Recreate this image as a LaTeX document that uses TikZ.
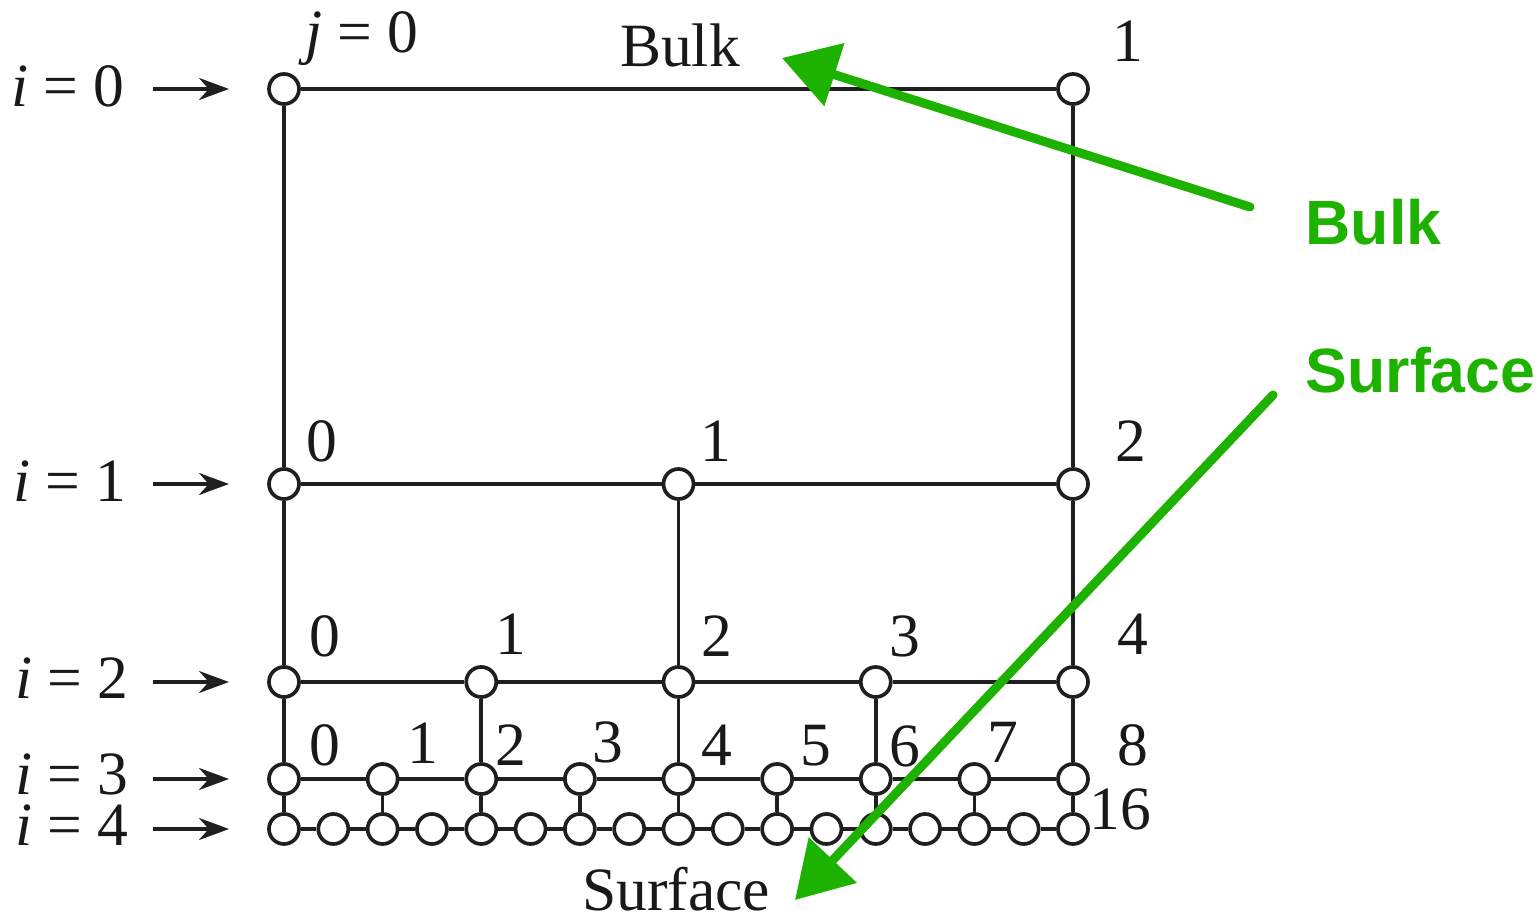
\documentclass[tikz,border=0pt]{standalone}
\usepackage{fontspec}
\setmainfont{Liberation Serif}
\newfontfamily\greenfont{Liberation Sans}
\usetikzlibrary{arrows.meta}
\definecolor{grn}{RGB}{30,178,0}
\begin{document}
\begin{tikzpicture}[x=0.01cm,y=-0.01cm,
  pt/.style={circle,draw=black!88,fill=white,line width=1.05pt,minimum size=0.3cm,inner sep=0pt},
  lab/.style={font=\fontsize{17.5}{20}\selectfont,inner sep=0pt,anchor=base,text=black!90},
  edge/.style={line width=1.05pt,draw=black!88},
  ptr/.style={line width=1.05pt,draw=black!88,-{Stealth[length=0.3cm,width=0.22cm]}},
  gl/.style={font=\fontsize{17.8}{21}\selectfont\greenfont\bfseries,text=grn,inner sep=0pt,anchor=base west},
  garrow/.style={draw=grn,line width=0.09cm,line cap=round,-{Triangle[length=0.55cm,width=0.64cm,fill=grn]}}]
\useasboundingbox (0,0) rectangle (1539,916);

% nodes
\node[pt] (a0) at (284,89) {};
\node[pt] (a1) at (1073,89) {};
\foreach \j in {0,...,2} \node[pt] (b\j) at ({284+\j*394.5},484) {};
\foreach \j in {0,...,4} \node[pt] (c\j) at ({284+\j*197.25},682) {};
\foreach \j in {0,...,8} \node[pt] (d\j) at ({284+\j*98.625},779) {};
\foreach \j in {0,...,16} \node[pt] (e\j) at ({284+\j*49.3125},829) {};

% horizontal edges
\draw[edge] (a0) -- (a1);
\foreach \j [evaluate=\j as \k using int(\j+1)] in {0,1} \draw[edge] (b\j) -- (b\k);
\foreach \j [evaluate=\j as \k using int(\j+1)] in {0,...,3} \draw[edge] (c\j) -- (c\k);
\foreach \j [evaluate=\j as \k using int(\j+1)] in {0,...,7} \draw[edge] (d\j) -- (d\k);
\foreach \j [evaluate=\j as \k using int(\j+1)] in {0,...,15} \draw[edge] (e\j) -- (e\k);

% vertical edges
\draw[edge] (a0) -- (b0);
\draw[edge] (a1) -- (b2);
\foreach \j [evaluate=\j as \k using int(2*\j)] in {0,...,2} \draw[edge] (b\j) -- (c\k);
\foreach \j [evaluate=\j as \k using int(2*\j)] in {0,...,4} \draw[edge] (c\j) -- (d\k);
\foreach \j [evaluate=\j as \k using int(2*\j)] in {0,...,8} \draw[edge] (d\j) -- (e\k);

% left labels and arrows
\node[lab] (il0) at (68,107) {\itshape i\upshape\ = 0};
\node[lab] (il1) at (70,502) {\itshape i\upshape\ = 1};
\node[lab] (il2) at (72,699) {\itshape i\upshape\ = 2};
\node[lab] (il3) at (72,795) {\itshape i\upshape\ = 3};
\node[lab] (il4) at (72,846) {\itshape i\upshape\ = 4};
\foreach \n/\y in {0/89,1/484,2/682,3/779,4/829}{
  \coordinate (s\n) at (153,\y);
  \coordinate (t\n) at (229,\y);
  \draw[ptr] (s\n) -- (t\n);
}

% top labels
\node[lab] (jl) at (362,53) {\itshape j\upshape\ = 0};
\node[lab] (l01) at (1128,62) {1};
\node[lab] (bulk) at (680,67) {Bulk};

% row 1 labels
\node[lab] (l10) at (322,462) {0};
\node[lab] (l11) at (716,462) {1};
\node[lab] (l12) at (1131,462) {2};

% row 2 labels
\node[lab] (l20) at (325,657) {0};
\node[lab] (l21) at (511,655) {1};
\node[lab] (l22) at (717,657) {2};
\node[lab] (l23) at (905,657) {3};
\node[lab] (l24) at (1133,655) {4};

% row 3 labels
\node[lab] (l30) at (325,766) {0};
\node[lab] (l31) at (423,764) {1};
\node[lab] (l32) at (511,766) {2};
\node[lab] (l33) at (608,763) {3};
\node[lab] (l34) at (717,766) {4};
\node[lab] (l35) at (816,766) {5};
\node[lab] (l36) at (905,767) {6};
\node[lab] (l37) at (1003,763) {7};
\node[lab] (l38) at (1133,766) {8};

\node[lab] (l416) at (1120,830) {16};
\node[lab] (surf) at (676,910) {Surface};

% green annotations
\node[gl] (gbulk) at (1305,245) {Bulk};
\node[gl] (gsurf) at (1305,393) {Surface};
\coordinate (g1s) at (1250,207);
\coordinate (g1e) at (782,58);
\coordinate (g2s) at (1273,395);
\coordinate (g2e) at (795,900);
\draw[garrow] (g1s) -- (g1e);
\draw[garrow] (g2s) -- (g2e);
\end{tikzpicture}
\end{document}
